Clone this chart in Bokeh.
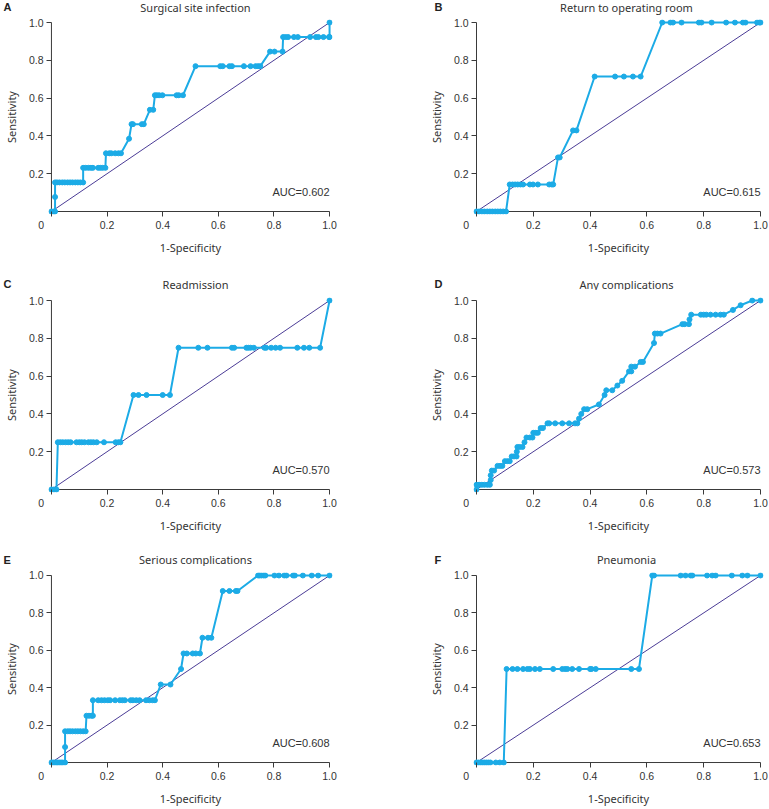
from bokeh.plotting import figure
from bokeh.layouts import row, column
from bokeh.models import Range1d, FixedTicker, Label
from bokeh.core.properties import value
from bokeh.embed import file_html
from bokeh.resources import INLINE

# ---------------- data ----------------
titles = ["Surgical site infection", "Return to operating room", "Readmission",
          "Any complications", "Serious complications", "Pneumonia"]
letters = ["A", "B", "C", "D", "E", "F"]
auc_labels = ["AUC=0.602", "AUC=0.615", "AUC=0.570", "AUC=0.573", "AUC=0.608", "AUC=0.653"]

x_ticks = [0.0, 0.2, 0.4, 0.6, 0.8, 1.0]
x_tick_labels = ["0" + "\u00a0" * 7, "0.2", "0.4", "0.6", "0.8", "1.0"]
y_ticks = [0.2, 0.4, 0.6, 0.8, 1.0]
y_tick_labels = ["0.2", "0.4", "0.6", "0.8", "1.0"]
ref_line = [0.0, 1.0]

A_fpr = [0.000, 0.008, 0.013,
         0.013,
         0.013, 0.020, 0.029, 0.039, 0.048, 0.058, 0.067, 0.076, 0.086, 0.095, 0.104, 0.114,
         0.114, 0.123, 0.133, 0.142, 0.149, 0.168, 0.176, 0.184, 0.194,
         0.196, 0.208, 0.215, 0.229, 0.241, 0.250,
         0.279,
         0.288, 0.293, 0.325, 0.332,
         0.354, 0.366,
         0.372, 0.379, 0.387, 0.399, 0.450, 0.458, 0.473,
         0.518, 0.607, 0.616, 0.640, 0.649, 0.692, 0.716, 0.734, 0.743, 0.751,
         0.786, 0.802, 0.831,
         0.833, 0.842, 0.851, 0.872, 0.886, 0.930, 0.951, 0.960, 0.978, 0.998, 1.000,
         1.000]
A_tpr = [0.000, 0.000, 0.000,
         0.077,
         0.154, 0.154, 0.154, 0.154, 0.154, 0.154, 0.154, 0.154, 0.154, 0.154, 0.154, 0.154,
         0.231, 0.231, 0.231, 0.231, 0.231, 0.231, 0.231, 0.231, 0.231,
         0.308, 0.308, 0.308, 0.308, 0.308, 0.308,
         0.385,
         0.462, 0.462, 0.462, 0.462,
         0.538, 0.538,
         0.615, 0.615, 0.615, 0.615, 0.615, 0.615, 0.615,
         0.769, 0.769, 0.769, 0.769, 0.769, 0.769, 0.769, 0.769, 0.769, 0.769,
         0.846, 0.846, 0.846,
         0.923, 0.923, 0.923, 0.923, 0.923, 0.923, 0.923, 0.923, 0.923, 0.923, 0.923,
         1.000]

B_fpr = [0.000, 0.009, 0.019, 0.028, 0.038, 0.047, 0.056, 0.066, 0.075, 0.084, 0.094, 0.104,
         0.117, 0.127, 0.136, 0.145, 0.155, 0.164, 0.188, 0.199, 0.216, 0.256, 0.265, 0.270,
         0.287, 0.293,
         0.340, 0.352,
         0.416, 0.488, 0.519, 0.551, 0.578,
         0.654, 0.683, 0.692, 0.722, 0.783, 0.792, 0.828, 0.879, 0.910, 0.938, 0.947, 0.988, 0.996, 1.000]
B_tpr = [0.000, 0.000, 0.000, 0.000, 0.000, 0.000, 0.000, 0.000, 0.000, 0.000, 0.000, 0.000,
         0.143, 0.143, 0.143, 0.143, 0.143, 0.143, 0.143, 0.143, 0.143, 0.143, 0.143, 0.143,
         0.286, 0.286,
         0.429, 0.429,
         0.714, 0.714, 0.714, 0.714, 0.714,
         1.000, 1.000, 1.000, 1.000, 1.000, 1.000, 1.000, 1.000, 1.000, 1.000, 1.000, 1.000, 1.000, 1.000]

C_fpr = [0.000, 0.009, 0.018,
         0.023, 0.032, 0.041, 0.051, 0.060, 0.069, 0.090, 0.100, 0.109, 0.119, 0.133, 0.142, 0.151,
         0.163, 0.189, 0.231, 0.241, 0.248,
         0.295, 0.313, 0.342, 0.400, 0.426,
         0.457, 0.528, 0.561, 0.649, 0.657, 0.701, 0.708, 0.716, 0.728, 0.766, 0.772, 0.790, 0.806,
         0.822, 0.884, 0.908, 0.927, 0.966,
         1.000]
C_tpr = [0.000, 0.000, 0.000,
         0.250, 0.250, 0.250, 0.250, 0.250, 0.250, 0.250, 0.250, 0.250, 0.250, 0.250, 0.250, 0.250,
         0.250, 0.250, 0.250, 0.250, 0.250,
         0.500, 0.500, 0.500, 0.500, 0.500,
         0.750, 0.750, 0.750, 0.750, 0.750, 0.750, 0.750, 0.750, 0.750, 0.750, 0.750, 0.750, 0.750,
         0.750, 0.750, 0.750, 0.750, 0.750,
         1.000]

D_fpr = [0.000,
         0.000, 0.009, 0.019, 0.028, 0.038, 0.047,
         0.050, 0.050,
         0.054, 0.062,
         0.074, 0.083, 0.091,
         0.100, 0.109, 0.117,
         0.124, 0.132, 0.141,
         0.142,
         0.144, 0.152, 0.162,
         0.169,
         0.176, 0.188, 0.197,
         0.200, 0.209, 0.216,
         0.226, 0.234,
         0.250, 0.256, 0.277, 0.302, 0.326, 0.347, 0.355,
         0.361, 0.369, 0.379, 0.390, 0.431, 0.451,
         0.457, 0.478, 0.496, 0.513,
         0.537, 0.545, 0.545, 0.558, 0.578, 0.586,
         0.625, 0.628, 0.637, 0.648,
         0.725, 0.733, 0.748, 0.750,
         0.756, 0.790, 0.800, 0.809, 0.824, 0.842, 0.859, 0.871,
         0.903, 0.930, 0.971, 1.000]
D_tpr = [0.000,
         0.025, 0.025, 0.025, 0.025, 0.025, 0.025,
         0.050, 0.075,
         0.100, 0.100,
         0.125, 0.125, 0.125,
         0.150, 0.150, 0.150,
         0.175, 0.175, 0.175,
         0.200,
         0.225, 0.225, 0.225,
         0.250,
         0.275, 0.275, 0.275,
         0.300, 0.300, 0.300,
         0.325, 0.325,
         0.350, 0.350, 0.350, 0.350, 0.350, 0.350, 0.350,
         0.375, 0.400, 0.425, 0.425, 0.450, 0.500,
         0.525, 0.525, 0.550, 0.575,
         0.625, 0.625, 0.650, 0.650, 0.675, 0.675,
         0.775, 0.825, 0.825, 0.825,
         0.875, 0.875, 0.875, 0.900,
         0.925, 0.925, 0.925, 0.925, 0.925, 0.925, 0.925, 0.925,
         0.950, 0.975, 1.000, 1.000]

E_fpr = [0.000, 0.006, 0.012, 0.018, 0.023, 0.029, 0.035, 0.041, 0.049,
         0.049,
         0.049, 0.059, 0.067, 0.076, 0.086, 0.095, 0.104, 0.114, 0.123,
         0.126, 0.135, 0.144, 0.149,
         0.149, 0.168, 0.180, 0.191, 0.203, 0.211, 0.229, 0.246, 0.255, 0.264, 0.285, 0.293, 0.305,
         0.317, 0.340, 0.352, 0.364, 0.372,
         0.393, 0.428,
         0.466,
         0.475, 0.487, 0.508, 0.519, 0.534,
         0.543, 0.563, 0.575,
         0.616, 0.640, 0.663, 0.669,
         0.743, 0.748, 0.755, 0.763, 0.769, 0.802, 0.818, 0.837, 0.845, 0.869, 0.875, 0.904, 0.936,
         0.959, 1.000]
E_tpr = [0.000, 0.000, 0.000, 0.000, 0.000, 0.000, 0.000, 0.000, 0.000,
         0.083,
         0.167, 0.167, 0.167, 0.167, 0.167, 0.167, 0.167, 0.167, 0.167,
         0.250, 0.250, 0.250, 0.250,
         0.333, 0.333, 0.333, 0.333, 0.333, 0.333, 0.333, 0.333, 0.333, 0.333, 0.333, 0.333, 0.333,
         0.333, 0.333, 0.333, 0.333, 0.333,
         0.417, 0.417,
         0.500,
         0.583, 0.583, 0.583, 0.583, 0.583,
         0.667, 0.667, 0.667,
         0.917, 0.917, 0.917, 0.917,
         1.000, 1.000, 1.000, 1.000, 1.000, 1.000, 1.000, 1.000, 1.000, 1.000, 1.000, 1.000, 1.000,
         1.000, 1.000]

F_fpr = [0.000, 0.007, 0.014, 0.021, 0.028, 0.035, 0.042, 0.049, 0.068, 0.082, 0.096,
         0.106, 0.127, 0.144, 0.164, 0.179, 0.188, 0.206, 0.223, 0.270, 0.302, 0.312, 0.320, 0.337,
         0.361, 0.400, 0.405, 0.420, 0.545, 0.572,
         0.619, 0.625, 0.719, 0.736, 0.754, 0.760, 0.812, 0.830, 0.842, 0.899, 0.936, 0.954, 1.000]
F_tpr = [0.000, 0.000, 0.000, 0.000, 0.000, 0.000, 0.000, 0.000, 0.000, 0.000, 0.000,
         0.500, 0.500, 0.500, 0.500, 0.500, 0.500, 0.500, 0.500, 0.500, 0.500, 0.500, 0.500, 0.500,
         0.500, 0.500, 0.500, 0.500, 0.500, 0.500,
         1.000, 1.000, 1.000, 1.000, 1.000, 1.000, 1.000, 1.000, 1.000, 1.000, 1.000, 1.000, 1.000]

series = [(A_fpr, A_tpr), (B_fpr, B_tpr), (C_fpr, C_tpr),
          (D_fpr, D_tpr), (E_fpr, E_tpr), (F_fpr, F_tpr)]

# ---------------- style / layout ----------------
CURVE = "#1CABE6"
DIAG = "#4B3C96"
AXIS = "#3a3a3a"
TXT = "#333333"
TICK_FONT = "Liberation Sans"
TEXT_FONT = "Noto Sans"

PAD = 3                 # px between frame edge and data 0 / 1
DX, DY = 284, 189       # data span in px
FW, FH = DX + 2 * PAD, DY + 2 * PAD
px, py = PAD / DX, PAD / DY

col_width = [385, 383]
col_left = [42, 88]
col_right = [col_width[0] - col_left[0] - FW, col_width[1] - col_left[1] - FW]

hdr_height = [15, 20, 20]
hdr_center_from_top = [6.5, 13.5, 13]
row_top = [4, 7, 6]
row_bottom = [56, 54, 41]

TITLE_DX = 150     # title centre, px right of x = 0
LETTER_DX = -42    # panel letter, px right of x = 0


def make_header(i):
    r, c = divmod(i, 2)
    w, h = col_width[c], hdr_height[r]
    p = figure(width=w, height=h, x_range=Range1d(0, w), y_range=Range1d(0, h),
               x_axis_location=None, y_axis_location=None, title_location=None,
               output_backend="svg", toolbar_location=None,
               min_border_left=0, min_border_right=0, min_border_top=0, min_border_bottom=0)
    p.outline_line_color = None
    p.grid.visible = False
    yc = h - hdr_center_from_top[r]
    data0 = col_left[c] + PAD
    p.text(x=[data0 + TITLE_DX], y=[yc], text=[titles[i]],
           text_font=value(TEXT_FONT), text_font_size=value("11px"),
           text_align="center", text_baseline="middle", text_color=TXT)
    p.text(x=[max(data0 + LETTER_DX, 3)], y=[yc], text=[letters[i]],
           text_font=value(TICK_FONT), text_font_size=value("11px"), text_font_style="bold",
           text_align="left", text_baseline="middle", text_color="#222222")
    return p


def make_panel(i):
    r, c = divmod(i, 2)
    fpr, tpr = series[i]
    p = figure(width=col_width[c], height=row_top[r] + FH + row_bottom[r],
               x_range=Range1d(-px, 1 + px), y_range=Range1d(-py, 1 + py),
               title_location=None, output_backend="svg", toolbar_location=None,
               min_border_left=col_left[c], min_border_right=col_right[c],
               min_border_top=row_top[r], min_border_bottom=row_bottom[r])
    p.outline_line_color = None
    p.grid.visible = False

    xa = p.xaxis[0]
    xa.ticker = FixedTicker(ticks=x_ticks)
    xa.major_label_overrides = dict(zip(x_ticks, x_tick_labels))
    xa.axis_label = "1-Specificity"
    xa.major_label_standoff = 2
    xa.axis_label_standoff = 6

    ya = p.yaxis[0]
    ya.ticker = FixedTicker(ticks=y_ticks)
    ya.major_label_overrides = dict(zip(y_ticks, y_tick_labels))
    ya.axis_label = "Sensitivity"
    ya.major_label_standoff = 3
    ya.axis_label_standoff = 7

    for ax in (xa, ya):
        ax.axis_line_color = None
        ax.major_tick_in = PAD
        ax.major_tick_out = 2
        ax.major_tick_line_color = AXIS
        ax.minor_tick_line_color = None
        ax.major_label_text_font = TICK_FONT
        ax.major_label_text_font_size = "10.5px"
        ax.major_label_text_color = TXT
        ax.axis_label_text_font = TEXT_FONT
        ax.axis_label_text_font_size = "11px"
        ax.axis_label_text_font_style = "normal"
        ax.axis_label_text_line_height = 1.0
        ax.axis_label_text_color = TXT

    # axis lines at data 0
    p.segment(x0=[ref_line[0], ref_line[0]], y0=[ref_line[0], ref_line[0]],
              x1=[ref_line[1], ref_line[0]], y1=[ref_line[0], ref_line[1]],
              line_color=AXIS, line_width=1)
    # reference diagonal
    p.line(ref_line, ref_line, line_color=DIAG, line_width=1)
    # ROC curve
    p.line(fpr, tpr, line_color=CURVE, line_width=2)
    p.scatter(fpr, tpr, size=5, fill_color=CURVE, line_color=CURVE)

    p.add_layout(Label(x=1.0, y=0.1, y_offset=1, text=auc_labels[i],
                       text_align="right", text_baseline="middle",
                       text_font=TICK_FONT, text_font_size="11px", text_color=TXT))
    return p


headers = [make_header(i) for i in range(6)]
panels = [make_panel(i) for i in range(6)]
blocks = []
for r in range(3):
    blocks.append(row(headers[2 * r], headers[2 * r + 1], spacing=0))
    blocks.append(row(panels[2 * r], panels[2 * r + 1], spacing=0))
layout = column(*blocks, spacing=0)

open("out.html", "w").write(file_html(layout, INLINE))
